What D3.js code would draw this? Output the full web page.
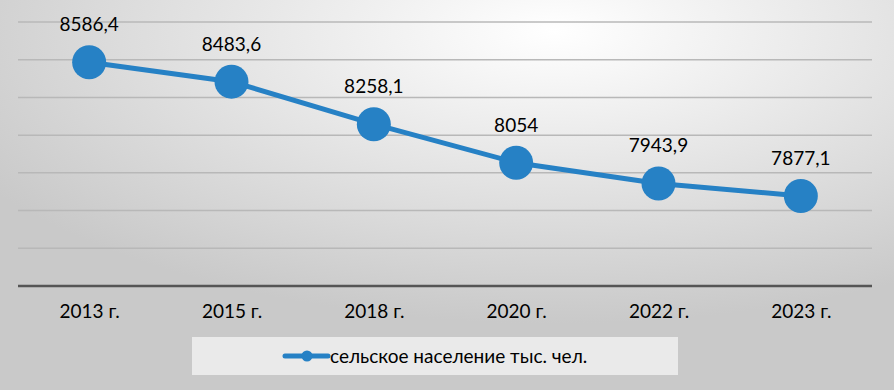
<!DOCTYPE html>
<html>
    <head>
        <meta charset="utf-8">
        <style>
         body {
             margin: 0;
             background-color: #ffffff;
         }
         text {
             font-family: Lato, "Open Sans", sans-serif;
             fill: #000000;
         }
         .grid line {
             stroke: #b8b8b8;
             stroke-width: 1.5;
         }
         .axis--x path, .axis--x line {
             display: none;
         }
        </style>
        <script src="https://d3js.org/d3.v7.min.js"></script>
    </head>
    <body>
        <svg id="chart" width="894" height="390"></svg>
        <script>
         var years = ["2013 г.", "2015 г.", "2018 г.", "2020 г.", "2022 г.", "2023 г."];
         var population = [8586.4, 8483.6, 8258.1, 8054, 7943.9, 7877.1];
         var labels = ["8586,4", "8483,6", "8258,1", "8054", "7943,9", "7877,1"];
         var yTicks = [7400, 7600, 7800, 8000, 8200, 8400, 8600, 8800];
         var seriesName = "сельское население тыс. чел.";

         var svg = d3.select("#chart"),
             margin = {top: 22, right: 22, bottom: 104, left: 18},
             width = +svg.attr("width") - margin.left - margin.right,
             height = +svg.attr("height") - margin.top - margin.bottom;

         var color = "#2681c5";

         // background gradient
         var defs = svg.append("defs");
         var grad = defs.append("radialGradient")
                        .attr("id", "bg")
                        .attr("cx", "62%").attr("cy", "8%")
                        .attr("r", "75%");
         grad.append("stop").attr("offset", "0%").attr("stop-color", "#ffffff");
         grad.append("stop").attr("offset", "100%").attr("stop-color", "#c9c9c9");

         svg.append("rect")
            .attr("width", 894).attr("height", 390)
            .attr("fill", "url(#bg)");

         var x = d3.scalePoint().domain(years).range([0, width]).padding(0.5),
             y = d3.scaleLinear().domain([7400, 8800]).range([height, 0]);

         var g = svg.append("g")
                    .attr("transform", "translate(" + margin.left + "," + margin.top + ")");

         g.append("g")
          .attr("class", "grid")
          .selectAll("line")
          .data(yTicks.slice(1))
          .enter().append("line")
          .attr("x1", 0).attr("x2", width)
          .attr("y1", function(d) { return y(d); })
          .attr("y2", function(d) { return y(d); });

         g.append("line")
          .attr("x1", 0).attr("x2", width)
          .attr("y1", y(7400)).attr("y2", y(7400))
          .attr("stroke", "#555555")
          .attr("stroke-width", 2.5);

         g.append("g")
          .attr("class", "axis axis--x")
          .attr("transform", "translate(0," + height + ")")
          .call(d3.axisBottom(x).tickSize(0).tickPadding(19))
          .selectAll("text")
          .attr("font-size", "19px")
          .attr("fill", "#000000")
          .style("font-family", "Lato, sans-serif");

         var data = years.map(function(d, i) {
             return {year: d, value: population[i], label: labels[i]};
         });

         var line = d3.line()
                      .x(function(d) { return x(d.year); })
                      .y(function(d) { return y(d.value); });

         g.append("path")
          .datum(data)
          .attr("fill", "none")
          .attr("stroke", color)
          .attr("stroke-width", 5)
          .attr("d", line);

         g.selectAll(".dot")
          .data(data)
          .enter().append("circle")
          .attr("class", "dot")
          .attr("cx", function(d) { return x(d.year); })
          .attr("cy", function(d) { return y(d.value); })
          .attr("r", 17)
          .attr("fill", color);

         g.selectAll(".label")
          .data(data)
          .enter().append("text")
          .attr("class", "label")
          .attr("x", function(d) { return x(d.year); })
          .attr("y", function(d) { return y(d.value) - 31; })
          .attr("text-anchor", "middle")
          .attr("font-size", "19px")
          .text(function(d) { return d.label; });

         // legend
         var legend = svg.append("g").attr("transform", "translate(192,337)");
         legend.append("rect")
               .attr("width", 486).attr("height", 38)
               .attr("fill", "#f0f0f0")
               .attr("opacity", 0.85);
         legend.append("line")
               .attr("x1", 93).attr("x2", 136)
               .attr("y1", 19).attr("y2", 19)
               .attr("stroke", color)
               .attr("stroke-width", 5)
               .attr("stroke-linecap", "round");
         legend.append("circle")
               .attr("cx", 115).attr("cy", 19).attr("r", 5.5)
               .attr("fill", color);
         legend.append("text")
               .attr("x", 138).attr("y", 26)
               .attr("font-size", "19px")
               .text(seriesName);
        </script>
    </body>
</html>
